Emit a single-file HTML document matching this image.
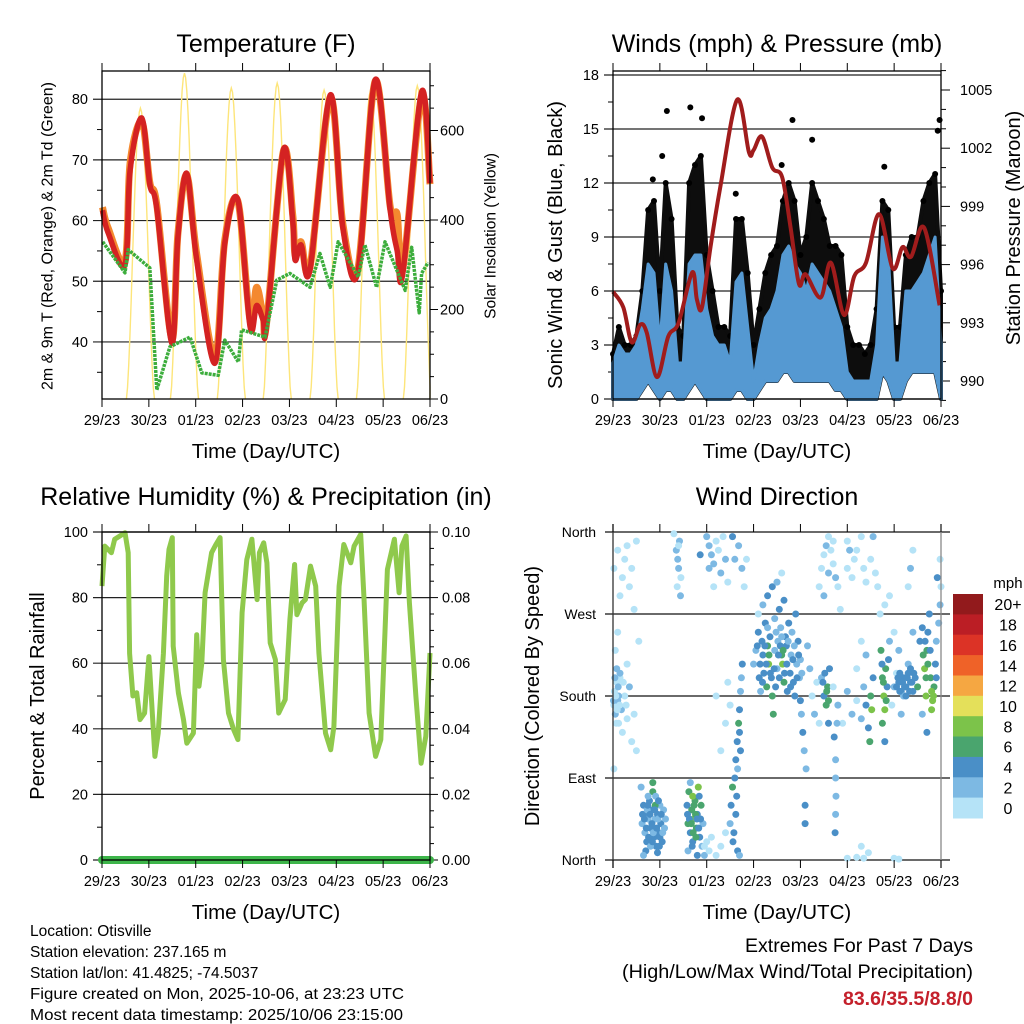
<!DOCTYPE html>
<html><head><meta charset="utf-8"><title>Station Meteogram</title>
<style>
html,body{margin:0;padding:0;background:#fff;}
svg{display:block;font-family:"Liberation Sans",sans-serif;}
</style></head>
<body>
<svg id="fig" width="1024" height="1024" viewBox="0 0 1024 1024">
<rect x="0" y="0" width="1024" height="1024" fill="#fff"/>
<g id="g1"></g>
<g id="g2"></g>
<g id="g3"></g>
<g id="g4"></g>
<g id="txt" font-size="20" fill="#000">
<text x="266" y="52" font-size="25" text-anchor="middle">Temperature (F)</text>
<text x="777" y="52" font-size="25" text-anchor="middle">Winds (mph) &amp; Pressure (mb)</text>
<text x="266" y="505" font-size="25" text-anchor="middle">Relative Humidity (%) &amp; Precipitation (in)</text>
<text x="777" y="505" font-size="25" text-anchor="middle">Wind Direction</text>
<text x="266" y="458" font-size="20.5" text-anchor="middle">Time (Day/UTC)</text>
<text x="777" y="458" font-size="20.5" text-anchor="middle">Time (Day/UTC)</text>
<text x="266" y="919" font-size="20.5" text-anchor="middle">Time (Day/UTC)</text>
<text x="777" y="919" font-size="20.5" text-anchor="middle">Time (Day/UTC)</text>
<text transform="translate(48,236) rotate(-90)" font-size="15.5" text-anchor="middle" dominant-baseline="central" textLength="308" lengthAdjust="spacingAndGlyphs">2m &amp; 9m T (Red, Orange) &amp; 2m Td (Green)</text>
<text transform="translate(491,236) rotate(-90)" font-size="15.5" text-anchor="middle" dominant-baseline="central">Solar Insolation (Yellow)</text>
<text transform="translate(556,245) rotate(-90)" font-size="20" text-anchor="middle" dominant-baseline="central" textLength="288" lengthAdjust="spacingAndGlyphs">Sonic Wind &amp; Gust (Blue, Black)</text>
<text transform="translate(1014,228) rotate(-90)" font-size="20" text-anchor="middle" dominant-baseline="central">Station Pressure (Maroon)</text>
<text transform="translate(38,696) rotate(-90)" font-size="20" text-anchor="middle" dominant-baseline="central">Percent &amp; Total Rainfall</text>
<text transform="translate(533,696) rotate(-90)" font-size="20" text-anchor="middle" dominant-baseline="central">Direction (Colored By Speed)</text>
<g font-size="15.5">
<text x="30" y="936">Location: Otisville</text>
<text x="30" y="957">Station elevation: 237.165 m</text>
<text x="30" y="978">Station lat/lon: 41.4825; -74.5037</text>
<text x="30" y="999" textLength="374" lengthAdjust="spacingAndGlyphs">Figure created on Mon, 2025-10-06, at 23:23 UTC</text>
<text x="30" y="1020" textLength="373" lengthAdjust="spacingAndGlyphs">Most recent data timestamp: 2025/10/06 23:15:00</text>
</g>
<text x="973" y="952" font-size="19" text-anchor="end" textLength="228" lengthAdjust="spacingAndGlyphs">Extremes For Past 7 Days</text>
<text x="973" y="978" font-size="19" text-anchor="end" textLength="351" lengthAdjust="spacingAndGlyphs">(High/Low/Max Wind/Total Precipitation)</text>
<text x="973" y="1005" font-size="19" font-weight="bold" fill="#c4202b" text-anchor="end" textLength="130" lengthAdjust="spacingAndGlyphs">83.6/35.5/8.8/0</text>
<text x="1008" y="588" font-size="15" text-anchor="middle">mph</text>
</g>
</svg>
<script>
// ---------- data ----------
const dayTicks = ["29/23","30/23","01/23","02/23","03/23","04/23","05/23","06/23"];
const tDays = [0.01,0.13,0.49,0.60,0.85,1.02,1.17,1.49,1.62,1.81,2.02,2.41,2.62,2.90,3.16,3.30,3.44,3.51,3.87,4.07,4.12,4.25,4.44,4.87,5.14,5.46,5.83,6.15,6.30,6.42,6.82,7.0];
const temp2m = [61.7,58,52.7,68.3,76.9,66,62,39.8,57.3,67.8,53.5,36.5,56.3,63.4,42.5,46,43.6,42.5,71.6,60,53.5,56,51.9,80.7,58.9,51.5,83.2,61.7,55,51.3,81.2,66.2];
const temp9m = [62.2,58.8,53.3,69.5,76.3,66.3,62.6,40.5,57.8,67.5,54.5,37.5,56.8,63.2,43.5,49,44.2,43,71.4,61,54.3,56.5,52.3,80.2,59.5,52,83,62.3,61,52,80.5,66];
const tdDays = [0.015,0.49,0.56,1.02,1.17,1.45,1.88,2.13,2.48,2.62,2.91,2.98,3.48,3.73,4.01,4.44,4.65,4.87,5.04,5.47,5.61,5.86,6.04,6.47,6.61,6.77,6.82,6.96];
const dewpt = [56.5,51.4,55.2,52.2,32.1,39.2,40.8,34.9,34.5,40.3,36.7,42,40.8,50.2,51.3,49,54.6,49,56.5,50.7,56,49,56.5,48.5,55.6,44.8,51.3,53.1];
const solarPeakDay = [0.82,1.76,2.76,3.74,4.74,5.73,6.73];
const solarPeak = [650,728,695,706,690,688,700];
const solarHalfWidth = [0.3,0.3,0.3,0.3,0.3,0.3,0.3];
const windStep = 0.125;
const gustHigh = [2.5,4,3,3,3.5,6,10.5,11,6,12,10,4,3.5,12,13,13.5,8,6,4,4,3.5,10,10,7,3,5,7,8,8.5,11,12,11,8,9,12,11,10,8.5,8.5,8,4,3,3,2.5,3,5,11,10.5,4,4,8,9,9,11,12,12.5,6];
const windHigh = [2,3,2.5,2.5,3,5,7.5,7,3,7.5,6,2,2,7.5,8,8,5,3.5,3,3,2,6.5,7,4,1,3,4.5,5,6,8,8.5,7.5,7,6,7.5,7,6.5,6,5,4,1.5,1,1,1,1,3,9,8,2,2,6,6,6.5,7,8,9,3];
const windLow = [0,0,0,0,0,0.5,1,0.5,0,0.5,0.5,0,0,0.5,1,0.5,0,0,0,0,0,0.5,0.5,0,0,0.5,1,1,1,1.5,1.5,1,1,1,1,1,1,1,0.5,0.5,0,0,0,0,0,0,1.5,1,0,0,1,1.5,1.5,1.5,1.5,1.5,0];
const gustPeakDays = [1.15,1.65,1.90,3.83,4.25,5.79,6.97,6.93,0.85,1.05,2.62,3.6];
const gustPeakVals = [16,16.2,15.6,15.5,14.4,12.9,15.5,14.9,12.2,13.5,11.4,13];
const pDays = [0,0.22,0.40,0.58,0.72,0.94,1.18,1.40,1.69,1.79,1.90,2.08,2.29,2.65,2.90,3.00,3.18,3.40,3.61,3.79,3.97,4.11,4.43,4.65,4.93,5.15,5.40,5.68,5.97,6.18,6.36,6.64,6.97];
const pressure = [994.6,993.8,992.0,992.9,992.5,990.2,992.3,993.0,995.6,994.2,993.8,996.9,1000.0,1004.5,1001.8,1001.9,1002.6,1001.0,1000.5,997.9,995.0,995.5,994.3,996.1,993.4,995.4,996.1,998.6,995.8,996.9,996.4,997.9,993.9];
const rhDays = [0,0.06,0.2,0.27,0.49,0.56,0.59,0.66,0.74,0.81,0.91,1.0,1.06,1.13,1.2,1.31,1.38,1.43,1.5,1.52,1.63,1.74,1.81,1.95,2.02,2.07,2.13,2.2,2.34,2.43,2.52,2.59,2.7,2.81,2.9,2.99,3.09,3.2,3.31,3.36,3.45,3.52,3.59,3.7,3.77,3.91,4.01,4.11,4.16,4.27,4.34,4.45,4.56,4.63,4.77,4.88,4.95,5.06,5.16,5.31,5.38,5.52,5.59,5.7,5.84,5.95,6.09,6.24,6.34,6.4,6.49,6.56,6.7,6.81,6.91,7.0];
const rh = [83.5,95.7,93.7,97.8,99.8,93.7,63,50,51,42.8,44.8,62,47.9,31.6,38.7,63,86.6,94.7,98.3,65.2,50.9,42.8,35.6,38.7,68.7,53,60,81.5,93.7,96.2,98.3,61.1,44.8,39.7,36.7,75.4,91.6,97.8,79.4,93.7,96.7,90.6,66.2,61.1,44.8,48.9,73.3,90.1,74.8,78.4,79.4,89.6,83.5,63.1,38.7,33.6,40.7,83.5,96.2,90.6,95.7,99.3,80.4,44.8,31.6,36.7,88.6,97.8,81.5,95.7,98.8,78.4,49.9,29.5,37.7,63.1];
const precipDays = [0,7];
const precip = [0,0];
const dirObs = [
[0.02,170,1],[0.03,185,1],[0.05,160,2],[0.08,195,1],[0.1,175,2],[0.12,150,1],[0.15,200,1],[0.18,165,2],[0.2,140,1],[0.25,180,1],[0.3,155,1],[0.35,190,2],[0.4,130,1],[0.45,160,1],[0.5,120,1],[0.05,230,1],[0.1,250,1],[0.15,290,1],[0.2,310,1],[0.25,330,1],[0.3,345,1],[0.35,300,1],[0.4,320,1],[0.1,340,1],[0.02,320,1],[0.45,275,1],[0.5,350,1],[0.3,215,1],[0.55,240,1],[0.08,210,2],[0.02,100,1],[0.15,205,3],[0.12,180,3],
[0.01,175,2],[0.04,200,2],[0.06,180,1],[0.09,165,1],[0.11,190,2],[0.14,170,1],[0.07,150,1],[0.22,195,1],[0.28,170,1],
[0.62,40,3],[0.65,60,4],[0.68,30,3],[0.7,50,5],[0.72,20,4],[0.75,45,3],[0.78,65,4],[0.8,35,5],[0.82,55,4],[0.85,75,6],[0.85,85,6],[0.88,25,4],[0.9,45,3],[0.92,15,4],[0.95,50,5],[0.98,30,4],[1.0,60,3],[1.02,40,5],[1.05,20,4],[1.08,55,3],[1.1,35,2],[0.7,10,4],[0.75,70,2],[0.9,60,6],[1.0,25,5],[0.65,5,3],[0.95,8,4],[1.12,45,3],[0.6,80,2],[0.8,15,2],
[0.63,50,4],[0.67,45,4],[0.71,35,4],[0.73,55,3],[0.76,25,4],[0.79,50,4],[0.83,40,4],[0.86,30,3],[0.89,55,4],[0.93,35,4],[0.96,45,3],[0.99,15,4],[1.03,50,4],[1.06,30,3],[0.74,60,4],[0.84,20,4],[0.91,70,3],[0.97,65,4],
[1.35,340,2],[1.38,330,2],[1.4,320,3],[1.42,350,2],[1.45,310,1],[1.37,300,1],[1.44,290,2],[1.4,345,1],[1.3,358,1],[1.86,335,4],
[1.58,60,4],[1.6,40,6],[1.62,75,6],[1.65,30,4],[1.68,55,6],[1.7,20,5],[1.72,45,8],[1.75,65,6],[1.78,35,6],[1.8,50,4],[1.82,80,8],[1.85,25,4],[1.88,60,6],[1.9,15,3],[1.92,40,3],[1.6,10,3],[1.7,70,8],[1.8,5,4],[1.95,5,2],[1.65,85,3],
[1.59,50,4],[1.63,45,5],[1.67,40,6],[1.71,30,6],[1.73,60,6],[1.76,50,7],[1.79,45,5],[1.83,35,4],[1.87,45,4],[1.69,15,5],[1.77,25,6],[1.84,70,4],
[2.0,355,2],[2.05,345,3],[2.1,335,2],[2.15,325,3],[2.2,350,1],[2.25,340,1],[2.3,315,2],[2.35,355,1],[2.4,330,2],[2.45,305,1],[2.05,320,3],[2.15,300,1],[1.95,15,1],[2.0,20,1],[2.05,10,1],[2.1,25,1],[2.2,5,1],[2.3,15,1],[2.4,30,1],
[2.5,40,3],[2.52,60,4],[2.55,80,6],[2.58,30,4],[2.6,90,4],[2.62,110,5],[2.65,130,4],[2.68,150,6],[2.7,165,4],[2.72,185,3],[2.74,200,2],[2.76,215,4],[2.66,10,4],[2.7,5,3],[2.55,355,4],[2.6,330,3],[2.68,345,2],[2.75,320,2],[2.8,300,1],[2.85,330,1],[2.3,120,1],[2.4,150,1],[2.2,180,1],[2.45,195,1],[2.5,170,1],
[2.56,20,4],[2.62,50,4],[2.64,70,4],[2.7,140,4],[2.72,120,4],[2.66,100,3],
[3.0,215,2],[3.05,230,3],[3.1,250,4],[3.12,200,4],[3.15,185,3],[3.18,240,5],[3.2,225,4],[3.22,205,5],[3.25,260,4],[3.28,190,6],[3.3,235,6],[3.32,215,8],[3.35,245,4],[3.38,200,5],[3.4,180,6],[3.42,160,6],[3.45,230,2],[3.48,250,3],[3.5,210,3],[3.52,240,2],[3.55,200,4],[3.58,255,3],[3.6,225,6],[3.62,215,8],[3.65,195,6],[3.68,245,5],[3.7,235,4],[3.72,185,4],[3.75,260,4],[3.78,205,5],[3.8,225,2],[3.82,250,3],[3.85,195,4],[3.88,180,5],[3.9,270,4],[3.92,215,3],[3.95,240,4],[3.98,200,2],[4.0,175,4],[4.02,160,3],[4.05,140,4],[4.08,120,3],[4.1,60,4],[4.1,40,4],[4.12,100,3],[4.0,220,3],[4.15,235,2],[4.2,210,2],[4.25,180,1],[4.3,160,2],[4.35,195,1],[4.4,150,1],[4.45,200,3],[4.5,180,4],[4.55,170,6],[4.58,190,6],[4.6,150,4],[4.62,210,4],[3.1,270,1],[3.2,280,3],[3.3,290,4],[3.4,300,4],[3.5,305,2],[3.6,315,1],[3.65,285,4],[3.55,275,4],
[3.08,235,4],[3.14,215,4],[3.19,195,4],[3.24,235,4],[3.27,215,5],[3.33,225,6],[3.36,205,4],[3.44,210,5],[3.47,190,4],[3.53,225,5],[3.57,235,4],[3.63,230,7],[3.66,205,4],[3.71,215,4],[3.74,240,3],[3.79,190,4],[3.84,220,4],[3.87,235,3],[3.93,200,4],[3.96,225,4],[4.03,205,3],[4.48,195,4],[4.52,205,5],[4.56,185,7],[4.6,175,6],[3.3,255,3],[3.45,265,2],[3.6,245,2],
[4.4,300,1],[4.45,320,1],[4.5,335,1],[4.55,345,2],[4.6,355,1],[4.65,340,1],[4.7,325,1],[4.75,310,2],[4.8,300,1],[4.5,290,2],[4.6,315,3],[4.7,350,1],[4.85,275,1],[5.0,320,1],[5.05,340,2],[5.1,310,1],[5.15,330,1],
[4.7,190,1],[4.8,170,2],[4.9,150,1],[5.0,185,2],[5.1,160,2],[5.2,175,1],[5.3,155,2],[5.35,190,3],[5.4,170,4],[5.45,145,4],[5.5,180,6],[5.52,165,8],[5.55,200,4],[5.48,130,6],[5.4,225,3],[5.3,240,1],[5.2,210,1],
[4.75,110,3],[4.75,90,3],[4.76,70,3],[4.75,50,3],[4.74,30,4],[4.72,135,4],[4.78,150,3],[5.0,2,1],[5.2,3,1],[5.35,2,1],[5.45,8,1],[5.3,15,1],[6.0,2,1],[6.1,1,1],
[5.72,230,6],[5.75,200,6],[5.78,180,8],[5.8,165,8],[5.82,210,6],[5.85,190,4],[5.88,220,4],[5.9,240,3],[5.75,150,6],[5.8,130,4],
[5.77,195,7],[5.83,175,6],[5.74,215,5],
[6.0,190,2],[6.05,205,1],[6.1,195,4],[6.15,185,4],[6.2,200,4],[6.25,190,4],[6.3,205,4],[6.35,195,4],[6.4,185,4],[6.45,200,4],[6.2,180,3],[6.3,215,3],[6.5,190,6],[6.55,240,4],[6.6,255,4],[6.62,225,6],[6.65,210,8],[6.68,180,8],[6.7,230,6],[6.72,250,4],[6.75,270,4],[6.78,200,6],[6.8,165,8],[6.82,175,8],[6.85,190,6],[6.88,215,4],[6.9,240,2],[6.95,260,3],[6.98,280,2],[7.0,300,1],[6.98,330,1],[6.92,310,4],[6.1,230,2],[6.0,250,1],[5.95,170,1],[6.15,160,3],[6.4,250,2],[6.4,340,1],[6.35,320,2],[6.3,300,1],[6.6,160,3],[6.7,140,4],
[6.05,190,4],[6.08,200,4],[6.12,185,4],[6.18,195,4],[6.22,190,4],[6.28,200,4],[6.33,185,4],[6.38,195,4],[6.42,205,4],[6.12,205,4],[6.25,180,4],[6.35,210,4],[6.68,200,7],[6.72,215,6],[6.8,185,8],[6.84,180,8],[6.77,230,5],[6.66,240,4],[6.9,200,4],
[5.2,340,1],[5.3,355,1],[5.35,320,1],[5.4,305,1],[5.5,330,1],[5.6,315,1],[5.65,300,1],[5.7,270,1],[5.8,280,1],[5.9,290,1],[5.55,355,2],[5.0,350,1]
];
const cbLabels = ["20+","18","16","14","12","10","8","6","4","2","0"];
const cbColors = ["#921a1c","#bb1e25","#dc3326","#ef6228","#f5a742","#e4e05a","#7cc34a","#4aa56e","#4a8fc7","#7db9e3","#b5e3f7"];

// ---------- helpers ----------
const NS = "http://www.w3.org/2000/svg";
function mk(tag, parent, name) {
  const el = document.createElementNS(NS, tag);
  
  
  parent.appendChild(el);
  return el;
}
function setA(el, o) { for (const k in o) el.setAttribute(k, o[k]); return el; }
function ln(p, x1, y1, x2, y2, name, col, w) {
  const l = mk('line', p, name);
  setA(l, {x1:x1, y1:y1, x2:x2, y2:y2, stroke:col||'#000', 'stroke-width':w||1});
  return l;
}
function tx(p, x, y, s, name, anchor, size) {
  const t = mk('text', p, name);
  setA(t, {x:x, y:y, 'text-anchor':anchor||'middle', 'font-size':size||14.5});
  t.textContent = s;
  return t;
}
function pts(xs, ys, fx, fy) { return xs.map((d,i)=>fx(d).toFixed(1)+','+fy(ys[i]).toFixed(1)).join(' '); }
function smooth(xs, ys, fx, fy) {
  const P = xs.map((d,i)=>[fx(d), fy(ys[i])]);
  let s = 'M'+P[0][0].toFixed(1)+','+P[0][1].toFixed(1);
  for (let i=0;i<P.length-1;i++){
    const p0=P[Math.max(0,i-1)], p1=P[i], p2=P[i+1], p3=P[Math.min(P.length-1,i+2)];
    const c1=[p1[0]+(p2[0]-p0[0])/6, p1[1]+(p2[1]-p0[1])/6];
    const c2=[p2[0]-(p3[0]-p1[0])/6, p2[1]-(p3[1]-p1[1])/6];
    s += ' C'+c1[0].toFixed(1)+','+c1[1].toFixed(1)+' '+c2[0].toFixed(1)+','+c2[1].toFixed(1)+' '+p2[0].toFixed(1)+','+p2[1].toFixed(1);
  }
  return s;
}
function panelFrame(g, X0, X1, Y0, Y1, xf) {
  dayTicks.forEach((s,i)=>{
    const x = xf(i);
    ln(g, x, Y1, x, Y1+8, 'x-tick');
    ln(g, x, Y0-8, x, Y0, 'x-tick-top');
    tx(g, x, Y1+26, s, 'x-tick-label');
  });
}
function boxRect(g, X0, X1, Y0, Y1, col) {
  const r = mk('rect', g, 'plot-frame');
  setA(r, {x:X0, y:Y0, width:X1-X0, height:Y1-Y0, fill:'none', stroke:col||'#000', 'stroke-width':1.3});
}

// ---------- Panel 1 ----------
(function(){
  const g = document.getElementById('g1');
  const X0=102, X1=430, Y0=71, Y1=399;
  const xd = d => X0 + d*(X1-X0)/7;
  const yT = v => Y1 - (v-30.6)/(84.65-30.6)*(Y1-Y0);
  const yS = v => Y1 - v*0.4475;
  for (let v=40; v<=80; v+=10) { ln(g, X0-9, yT(v), X1, yT(v), 'temp-gridline', '#222', 1.2); tx(g, X0-14, yT(v)+5, String(v), 'temp-tick-label', 'end', 14.5); }
  for (let v=35; v<=80; v+=10) ln(g, X0-5, yT(v), X0, yT(v), 'temp-minor-tick');
  for (let v=0; v<=700; v+=50) { const maj = v%200===0; ln(g, X1, yS(v), X1+(maj?8:4), yS(v), 'solar-tick'); if (maj) tx(g, X1+10, yS(v)+5, String(v), 'solar-tick-label', 'start', 14.5); }
  solarPeakDay.forEach((pd,i)=>{
    const hw = solarHalfWidth[i], a = [];
    for (let k=0;k<=24;k++){ const d = pd-hw+2*hw*k/24; const v = solarPeak[i]*Math.pow(Math.sin(Math.PI*k/24),1.6); a.push(xd(Math.min(7,Math.max(0,d))).toFixed(1)+','+yS(v).toFixed(1)); }
    const pl = mk('polyline', g, 'solar-curve');
    setA(pl, {points:a.join(' '), fill:'none', stroke:'#fde57a', 'stroke-width':1.4});
  });
  const o = mk('path', g, 'temp-9m-line');
  setA(o, {d:smooth(tDays,temp9m,xd,yT), fill:'none', stroke:'#f4892f', 'stroke-width':7, 'stroke-linejoin':'round'});
  const r = mk('path', g, 'temp-2m-line');
  setA(r, {d:smooth(tDays,temp2m,xd,yT), fill:'none', stroke:'#d42222', 'stroke-width':5.5, 'stroke-linejoin':'round'});
  const gr = mk('polyline', g, 'dewpoint-line');
  setA(gr, {points:pts(tdDays,dewpt,xd,yT), fill:'none', stroke:'#3cad3c', 'stroke-width':3.5, 'stroke-linejoin':'round', 'stroke-dasharray':'3 1'});
  boxRect(g, X0, X1, Y0, Y1);
  panelFrame(g, X0, X1, Y0, Y1, xd);
})();

// ---------- Panel 2 ----------
(function(){
  const g = document.getElementById('g2');
  const X0=613, X1=941, Y0=71, Y1=399;
  const xd = d => X0 + d*(X1-X0)/7;
  const yW = v => Y1 - v*18;
  const yP = p => 381 - (p-990)*19.4;
  for (let v=0; v<=18; v+=3) { ln(g, X0-9, yW(v), X1, yW(v), 'wind-gridline', '#222', 1.2); tx(g, X0-14, yW(v)+5, String(v), 'wind-tick-label', 'end', 14.5); }
  for (let v=1.5; v<=18; v+=3) ln(g, X0-5, yW(v), X0, yW(v), 'wind-minor-tick');
  for (let p=989; p<=1006; p+=1) { const maj = p%3===0; ln(g, X1, yP(p), X1+(maj?9:5), yP(p), 'pressure-tick'); if (maj) tx(g, X1+19, yP(p)+5, String(p), 'pressure-tick-label', 'start', 14.5); }
  const wd = windHigh.map((v,i)=>i*windStep);
  const rev = a => a.slice().reverse();
  const gp = mk('polygon', g, 'gust-cloud');
  setA(gp, {points: pts(wd,gustHigh,xd,yW)+' '+pts(rev(wd),rev(windLow),xd,yW), fill:'#0d0d0d', stroke:'#0d0d0d', 'stroke-width':4, 'stroke-linejoin':'round'});
  wd.forEach((d,i)=>{ const c = mk('circle', g, 'gust-point'); setA(c,{cx:xd(d), cy:yW(gustHigh[i]), r:3, fill:'#000'}); });
  gustPeakDays.forEach((d,i)=>{ const c = mk('circle', g, 'gust-point'); setA(c,{cx:xd(d), cy:yW(gustPeakVals[i]), r:3, fill:'#000'}); });
  const wp = mk('polygon', g, 'wind-area');
  setA(wp, {points: pts(wd,windHigh,xd,yW)+' '+pts(rev(wd),rev(windLow),xd,yW), fill:'#5599d2', stroke:'#5599d2', 'stroke-width':3, 'stroke-linejoin':'round'});
  const pl = mk('path', g, 'pressure-line');
  setA(pl, {d:smooth(pDays,pressure,xd,yP), fill:'none', stroke:'#a01c1c', 'stroke-width':4, 'stroke-linejoin':'round'});
  boxRect(g, X0, X1, Y0, Y1);
  panelFrame(g, X0, X1, Y0, Y1, xd);
})();

// ---------- Panel 3 ----------
(function(){
  const g = document.getElementById('g3');
  const X0=102, X1=430, Y0=532, Y1=860;
  const xd = d => X0 + d*(X1-X0)/7;
  const yR = v => Y1 - v*3.28;
  const yQ = v => Y1 - v*3280;
  for (let v=0; v<=100; v+=20) { ln(g, X0-9, yR(v), X1, yR(v), 'rh-gridline', '#222', 1.2); tx(g, X0-14, yR(v)+5, String(v), 'rh-tick-label', 'end', 14.5); }
  for (let v=10; v<=100; v+=20) ln(g, X0-5, yR(v), X0, yR(v), 'rh-minor-tick');
  for (let k=0; k<=20; k++) { const v=k*0.005, maj=k%4===0; ln(g, X1, yQ(v), X1+(maj?8:4), yQ(v), 'precip-tick'); if (maj) tx(g, X1+12, yQ(v)+5, v.toFixed(2), 'precip-tick-label', 'start', 14.5); }
  const l = mk('polyline', g, 'rh-line');
  setA(l, {points:pts(rhDays,rh,xd,yR), fill:'none', stroke:'#8fc94c', 'stroke-width':5, 'stroke-linejoin':'round'});
  const p = mk('polyline', g, 'precip-line');
  setA(p, {points:pts(precipDays,precip,xd,yQ), fill:'none', stroke:'#3db54a', 'stroke-width':8, 'stroke-linecap':'round'});
  boxRect(g, X0, X1, Y0, Y1);
  panelFrame(g, X0, X1, Y0, Y1, xd);
})();

// ---------- Panel 4 ----------
(function(){
  const g = document.getElementById('g4');
  const X0=613, X1=941, Y0=532, Y1=860;
  const xd = d => X0 + d*(X1-X0)/7;
  const yD = v => Y1 - v*(Y1-Y0)/360;
  const names = ["North","East","South","West","North"];
  names.forEach((s,i)=>{ ln(g, 605, yD(i*90), 950, yD(i*90), 'direction-gridline', '#111', 1.2); tx(g, 596, yD(i*90)+5, s, 'direction-tick-label', 'end', 14); });
  const colFor = s => { const b = Math.min(10, Math.floor(s/2)); return cbColors[10-b]; };
  dirObs.forEach(o=>{ const c = mk('circle', g, 'direction-point'); setA(c,{cx:xd(o[0]).toFixed(1), cy:yD(o[1]).toFixed(1), r:3.5, fill:colFor(o[2])}); });
  const fr = mk('line', g, 'left-axis'); setA(fr,{x1:X0,y1:Y0-8,x2:X0,y2:Y1+8,stroke:'#333','stroke-width':1.3});
  const fr2 = mk('line', g, 'right-axis'); setA(fr2,{x1:X1,y1:Y0-8,x2:X1,y2:Y1+8,stroke:'#888','stroke-width':1.3});
  panelFrame(g, X0, X1, Y0, Y1, xd);
  const cbH = (818-594)/11;
  cbLabels.forEach((s,i)=>{
    const r = mk('rect', g, 'colorbar-box');
    setA(r,{x:953, y:(594+i*cbH).toFixed(1), width:30, height:(cbH+0.5).toFixed(1), fill:cbColors[i]});
    tx(g, 1008, 594+i*cbH+cbH/2+6, s, 'colorbar-label', 'middle', 16);
  });
})();
</script>
</body></html>
